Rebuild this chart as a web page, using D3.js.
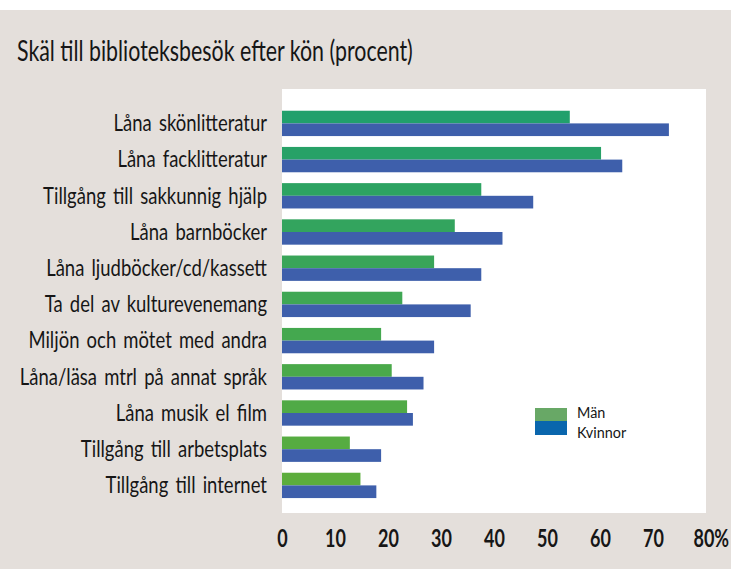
<!DOCTYPE html>
<html>
<head>
<meta charset="utf-8">
<script src="https://cdn.jsdelivr.net/npm/d3@7"></script>
<style>
  html, body { margin: 0; padding: 0; background: #fff; }
  svg { display: block; }
</style>
</head>
<body>
<div id="chart"></div>
<script>
const categories = [
  "Låna skönlitteratur",
  "Låna facklitteratur",
  "Tillgång till sakkunnig hjälp",
  "Låna barnböcker",
  "Låna ljudböcker/cd/kassett",
  "Ta del av kulturevenemang",
  "Miljön och mötet med andra",
  "Låna/läsa mtrl på annat språk",
  "Låna musik el film",
  "Tillgång till arbetsplats",
  "Tillgång till internet"
]
const seriesNames = ["Män", "Kvinnor"]
const men = [54.3, 60.2, 37.6, 32.6, 28.7, 22.7, 18.7, 20.7, 23.6, 12.8, 14.8]
const women = [73.0, 64.2, 47.4, 41.6, 37.6, 35.6, 28.7, 26.7, 24.7, 18.7, 17.8]
const tickValues = [0, 10, 20, 30, 40, 50, 60, 70, 80]
const title = "Skäl till biblioteksbesök efter kön (procent)"

const width = 731
const height = 569
const plot = { left: 282, right: 706, top: 89, bottom: 513 }
const ink = "#161616"
const font = "Lato, 'Open Sans', sans-serif"

const svg = d3.select("#chart").append("svg")
  .attr("width", width)
  .attr("height", height)
  .attr("font-family", font)

// beige page with a thin white band on top
svg.append("rect").attr("width", width).attr("height", height).attr("fill", "#fff")
svg.append("rect").attr("y", 10).attr("width", width).attr("height", height - 10).attr("fill", "#e4dfdb")

// white plot area
svg.append("rect")
  .attr("x", plot.left).attr("y", plot.top)
  .attr("width", plot.right - plot.left).attr("height", plot.bottom - plot.top)
  .attr("fill", "#fff")

const x = d3.scaleLinear().domain([0, 80]).range([plot.left, plot.right])
const y = d3.scaleBand().domain(categories).range([105.3, 503.5]).paddingInner(0.3).paddingOuter(0.15)
const ySub = d3.scaleBand().domain(seriesNames).range([0, y.bandwidth()])

const green = i => d3.interpolateRgb("#21a06c", "#5cad3c")(i / (categories.length - 1))
const blue = "#3e5fab"

const rows = categories.map((c, i) => ({ cat: c, i, values: [men[i], women[i]] }))

// squeeze text horizontally to fit the condensed look of the original
function squeeze(targetWidth, sampleNode) {
  return targetWidth / sampleNode.getComputedTextLength()
}

const row = svg.append("g").selectAll("g.row")
  .data(rows)
  .join("g")
    .attr("class", "row")
    .attr("transform", d => `translate(0,${y(d.cat)})`)

row.selectAll("rect")
  .data(d => d.values.map((v, k) => ({ v, k, i: d.i })))
  .join("rect")
    .attr("x", x(0))
    .attr("y", d => ySub(seriesNames[d.k]))
    .attr("width", d => x(d.v) - x(0))
    .attr("height", ySub.bandwidth())
    .attr("fill", d => d.k === 0 ? green(d.i) : blue)

// category labels
const labelSel = svg.append("g")
  .attr("font-size", 23)
  .attr("fill", ink)
  .attr("word-spacing", 3)
  .selectAll("text")
  .data(categories)
  .join("text")
    .attr("text-anchor", "end")
    .attr("dy", "0.34em")
    .text(d => d)

const labelScale = squeeze(224, labelSel.nodes()[2])
labelSel.attr("transform", d => `translate(267,${y(d) + y.bandwidth() / 2}) scale(${labelScale},1)`)

// title
const titleText = svg.append("text")
  .attr("font-size", 29)
  .attr("fill", ink)
  .text(title)
const titleScale = squeeze(396, titleText.node())
titleText.attr("transform", `translate(17,61) scale(${titleScale},1)`)

// x axis
const axis = svg.append("g")
  .attr("transform", `translate(0,${plot.bottom})`)
  .call(d3.axisBottom(x).tickValues(tickValues).tickSize(0).tickPadding(0).tickFormat(d => d))

axis.select(".domain").remove()
axis.selectAll("text")
  .attr("font-family", font)
  .attr("font-size", 25)
  .attr("font-weight", "bold")
  .attr("fill", ink)
  .attr("y", 34)
  .attr("dy", 0)
  .attr("transform", "scale(0.72,1)")
axis.selectAll(".tick")
  .filter(d => d === 80)
  .select("text")
    .attr("text-anchor", "start")
    .attr("x", -13 / 0.72)
    .text("80%")

// legend
const legend = svg.append("g").attr("transform", "translate(535,408)")
legend.append("rect").attr("width", 32).attr("height", 13).attr("fill", "#68a866")
legend.append("rect").attr("y", 13).attr("width", 32).attr("height", 14).attr("fill", "#0a66ad")
legend.selectAll("text")
  .data(seriesNames)
  .join("text")
    .attr("font-size", 16)
    .attr("fill", ink)
    .attr("transform", (d, i) => `translate(42,${10 + i * 19.5}) scale(0.9,1)`)
    .text(d => d)
</script>
</body>
</html>
